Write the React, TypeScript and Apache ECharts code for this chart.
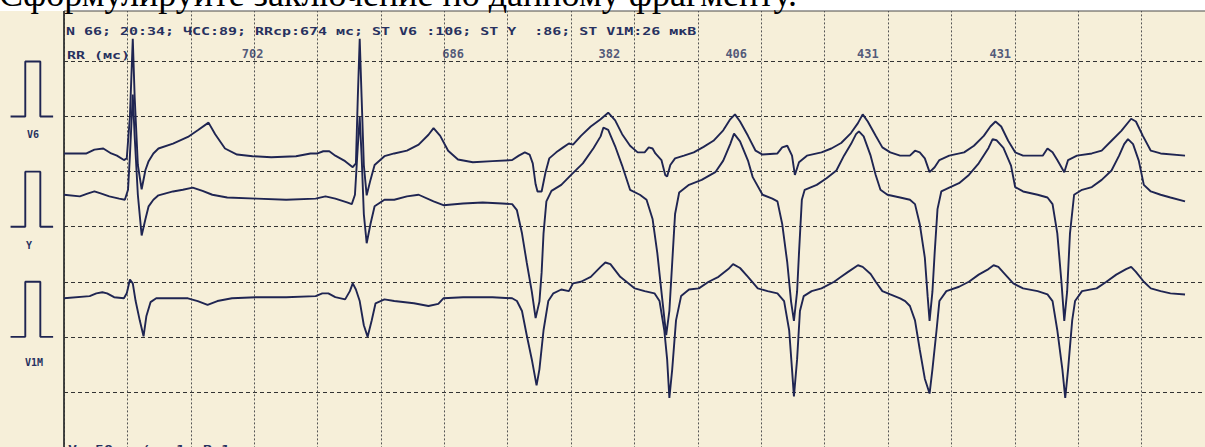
import React, { useEffect, useRef } from "react";
import * as echarts from "echarts";

// ---- Data: time in ms (50 mm/s), amplitude in mV relative to each lead's baseline ----
const V6_DATA: number[][] = [
  [0, 0], [71, 0], [96, 0.07], [124, 0.09], [149, 0], [167, -0.04], [189, -0.12], [198, -0.09],
  [208, 0.67], [217, 2.08], [223, 1.02], [233, -0.21], [245, -0.65], [257, -0.3], [267, -0.14],
  [282, 0], [298, 0.09], [344, 0.18], [391, 0.3], [422, 0.42], [456, 0.56], [477, 0.35], [508, 0.09],
  [546, -0.02], [595, -0.05], [654, -0.07], [732, -0.05], [778, 0], [800, 0], [818, 0.04], [837, 0.04],
  [856, -0.04], [887, -0.14], [911, -0.25], [921, -0.18], [927, 1.02], [933, 2.08], [939, 1.02],
  [946, -0.21], [955, -0.76], [967, -0.48], [980, -0.21], [1011, -0.05], [1042, 0], [1082, 0.05],
  [1119, 0.16], [1150, 0.34], [1166, 0.46], [1187, 0.32], [1212, 0.05], [1243, -0.11], [1290, -0.16],
  [1352, -0.14], [1414, -0.12], [1435, -0.04], [1454, 0.02], [1469, -0.02], [1479, -0.18], [1488, -0.56],
  [1494, -0.69], [1507, -0.69], [1519, -0.35], [1531, -0.09], [1553, 0.02], [1575, 0.11], [1593, 0.18],
  [1606, 0.16], [1631, 0.32], [1662, 0.49], [1693, 0.62], [1717, 0.74], [1739, 0.6], [1761, 0.35],
  [1786, 0.14], [1810, 0.02], [1832, 0.02], [1845, 0.11], [1857, 0.09], [1866, 0], [1885, -0.12],
  [1897, -0.39], [1903, -0.42], [1913, -0.21], [1928, -0.09], [1956, -0.04], [1987, 0.02], [2018, 0.12],
  [2049, 0.23], [2080, 0.42], [2102, 0.62], [2117, 0.71], [2133, 0.58], [2158, 0.32], [2182, 0.05],
  [2204, -0.02], [2251, 0], [2266, 0.11], [2282, 0.14], [2297, -0.04], [2306, -0.39], [2319, -0.16],
  [2344, -0.04], [2390, 0.02], [2421, 0.09], [2452, 0.19], [2483, 0.37], [2505, 0.55], [2520, 0.71],
  [2536, 0.58], [2561, 0.32], [2582, 0.11], [2607, 0.02], [2638, -0.04], [2669, -0.04], [2685, 0.05],
  [2700, 0.02], [2716, -0.09], [2731, -0.34], [2747, -0.25], [2762, -0.12], [2793, -0.04], [2840, 0.02],
  [2871, 0.14], [2902, 0.32], [2923, 0.49], [2939, 0.58], [2957, 0.49], [2979, 0.23], [3001, 0.02],
  [3026, -0.04], [3088, -0.04], [3103, 0.09], [3119, 0.02], [3134, -0.12], [3156, -0.34], [3168, -0.12],
  [3196, -0.04], [3243, 0], [3274, 0.05], [3305, 0.23], [3336, 0.41], [3367, 0.63], [3382, 0.58],
  [3404, 0.32], [3429, 0.05], [3460, 0], [3537, -0.04],
];

const Y_DATA: number[][] = [
  [0, 0.05], [50, 0.02], [74, 0.07], [96, 0.11], [118, 0.07], [143, 0.02], [174, -0.02], [192, -0.04],
  [202, 0.14], [208, 0.76], [217, 1.87], [223, 1.11], [233, 0.05], [245, -0.69], [257, -0.39],
  [267, -0.16], [282, -0.04], [298, 0.04], [344, 0.11], [375, 0.14], [406, 0.18], [437, 0.12],
  [468, 0.05], [515, 0], [608, -0.02], [701, -0.04], [794, -0.02], [825, 0.02], [856, -0.02],
  [893, -0.09], [908, -0.12], [918, 0.05], [927, 0.93], [933, 1.46], [939, 0.76], [946, -0.3],
  [955, -0.83], [967, -0.48], [980, -0.16], [1011, -0.04], [1042, -0.04], [1082, 0.02], [1119, 0.05],
  [1166, -0.07], [1197, -0.14], [1259, -0.11], [1321, -0.09], [1383, -0.11], [1414, -0.12],
  [1429, -0.23], [1445, -0.65], [1460, -1.18], [1476, -1.71], [1488, -2.19], [1500, -1.89],
  [1507, -1.36], [1513, -0.65], [1522, -0.07], [1538, 0.12], [1569, 0.23], [1600, 0.41], [1637, 0.62],
  [1671, 0.9], [1693, 1.11], [1702, 1.27], [1717, 1.23], [1739, 0.93], [1761, 0.58], [1786, 0.14],
  [1817, 0.05], [1838, -0.04], [1857, -0.39], [1872, -1.01], [1885, -1.71], [1900, -2.5], [1910, -2.06],
  [1919, -1.18], [1928, -0.3], [1941, 0.09], [1972, 0.23], [2012, 0.32], [2055, 0.46], [2080, 0.67],
  [2102, 0.97], [2114, 1.16], [2133, 1.02], [2158, 0.67], [2173, 0.37], [2204, 0.05], [2235, -0.02],
  [2251, -0.07], [2266, -0.48], [2282, -1.18], [2294, -1.89], [2303, -2.24], [2313, -1.71],
  [2319, -1.01], [2328, -0.04], [2337, 0.14], [2375, 0.23], [2406, 0.35], [2437, 0.49], [2461, 0.76],
  [2483, 0.97], [2499, 1.15], [2508, 1.2], [2523, 1.11], [2545, 0.76], [2561, 0.41], [2576, 0.14],
  [2598, 0.05], [2638, 0], [2669, -0.04], [2685, -0.12], [2700, -0.48], [2716, -1.09], [2725, -1.8],
  [2731, -2.24], [2740, -1.71], [2747, -1.01], [2756, -0.21], [2768, 0.11], [2793, 0.18], [2824, 0.26],
  [2855, 0.41], [2886, 0.62], [2917, 0.9], [2930, 1.06], [2942, 1.04], [2964, 0.9], [2988, 0.58],
  [3001, 0.19], [3026, 0.11], [3072, 0.05], [3103, 0], [3119, -0.12], [3134, -0.65], [3147, -1.53],
  [3156, -2.24], [3165, -1.71], [3174, -0.65], [3187, 0.05], [3212, 0.14], [3243, 0.19], [3274, 0.32],
  [3305, 0.49], [3329, 0.76], [3345, 0.97], [3357, 1.06], [3373, 0.97], [3391, 0.67], [3407, 0.23],
  [3429, 0.11], [3460, 0.05], [3491, 0], [3537, -0.07],
];

const V1M_DATA: number[][] = [
  [0, -0.02], [81, 0.02], [102, 0.07], [121, 0.09], [136, 0.07], [158, 0], [189, -0.02], [198, 0.07],
  [208, 0.32], [217, 0.25], [226, -0.07], [239, -0.42], [251, -0.71], [260, -0.34], [273, -0.09],
  [291, -0.02], [391, -0.02], [422, -0.07], [453, -0.14], [484, -0.07], [530, -0.02], [608, 0], [701, 0],
  [794, 0.02], [815, 0.07], [834, 0.07], [856, 0], [887, -0.04], [902, 0.11], [911, 0.25], [921, 0.14],
  [933, -0.07], [946, -0.51], [958, -0.72], [971, -0.42], [983, -0.11], [1011, -0.04], [1042, -0.07],
  [1104, -0.11], [1150, -0.16], [1181, -0.12], [1197, -0.02], [1259, 0], [1352, 0], [1414, -0.02],
  [1429, -0.07], [1445, -0.25], [1460, -0.69], [1476, -1.13], [1491, -1.6], [1500, -1.31], [1513, -0.6],
  [1528, -0.07], [1544, 0.07], [1569, 0.14], [1593, 0.11], [1606, 0.25], [1631, 0.28], [1662, 0.37],
  [1693, 0.55], [1708, 0.63], [1724, 0.6], [1755, 0.37], [1801, 0.16], [1832, 0.11], [1863, 0.07],
  [1879, -0.07], [1894, -0.6], [1903, -1.13], [1910, -1.83], [1919, -1.31], [1931, -0.42], [1947, 0.02],
  [1972, 0.14], [2003, 0.16], [2034, 0.28], [2065, 0.37], [2096, 0.51], [2111, 0.6], [2133, 0.53],
  [2158, 0.37], [2189, 0.16], [2220, 0.11], [2251, 0.07], [2272, -0.07], [2288, -0.6], [2297, -1.31],
  [2303, -1.8], [2313, -1.13], [2322, -0.25], [2334, 0.02], [2359, 0.11], [2390, 0.16], [2430, 0.28],
  [2452, 0.37], [2474, 0.46], [2505, 0.58], [2520, 0.55], [2545, 0.42], [2561, 0.28], [2582, 0.11],
  [2607, 0.05], [2638, -0.02], [2654, -0.07], [2669, -0.16], [2685, -0.42], [2700, -0.95], [2716, -1.48],
  [2731, -1.75], [2740, -1.31], [2753, -0.6], [2762, -0.07], [2784, 0.11], [2824, 0.19], [2855, 0.28],
  [2886, 0.41], [2917, 0.51], [2933, 0.58], [2948, 0.55], [2970, 0.41], [2995, 0.25], [3026, 0.16],
  [3072, 0.11], [3103, 0.05], [3119, -0.07], [3134, -0.6], [3150, -1.31], [3159, -1.83], [3168, -1.31],
  [3181, -0.42], [3190, -0.07], [3212, 0.11], [3258, 0.16], [3289, 0.28], [3320, 0.41], [3351, 0.51],
  [3367, 0.55], [3382, 0.46], [3407, 0.28], [3429, 0.16], [3460, 0.11], [3491, 0.07], [3537, 0.05],
];

// Lead baselines on the chart's mV scale
const V6_BASE = 4.33;
const Y_BASE = 3.53;
const V1M_BASE = 1.72;

// Calibration pulse (1 mV) drawn in the left margin
const CAL_T = [-167, -121, -121, -74, -74, -34];
const CAL_V = [0, 0, 1, 1, 0, 0];
const CAL_BASES = [5, 3, 1];
const CAL_LABELS = ["V6", "Y", "V1M"];

// RR intervals printed on the strip
const RR_VALUES = [702, 686, 382, 406, 431, 431];
const RR_LABEL_T = [595, 1228, 1721, 2121, 2536, 2954];
const RR_LABEL_V = 6.14;

const TITLE = "Сформулируйте заключение по данному фрагменту.";
const HEADER = "N 66; 20:34; ЧСС:89; RRср:674 мс; ST V6 :106; ST Y  :86; ST V1M:26 мкВ";
const RR_HEADER = "RR (мс)";
const FOOTER = "V: 50 мм/с; 1 мВ:1 см";

const PAPER = "#f6efd9";
const INK = "#1f2552";
const TEXT_INK = "#27315f";
const MONO = '"DejaVu Sans Mono", monospace';

export default function App() {
  const ref = useRef<HTMLDivElement>(null);

  useEffect(() => {
    if (!ref.current) return;
    const chart = echarts.init(ref.current, null, { renderer: "svg" });

    const lead = (data: number[][], base: number) =>
      data.map(([t, v]) => [t, Math.round((v + base) * 1000) / 1000]);

    const traceSeries = [
      { name: "V6", data: lead(V6_DATA, V6_BASE) },
      { name: "Y", data: lead(Y_DATA, Y_BASE) },
      { name: "V1M", data: lead(V1M_DATA, V1M_BASE) },
    ].map((s) => ({
      type: "line",
      name: s.name,
      data: s.data,
      xAxisIndex: 0,
      yAxisIndex: 0,
      showSymbol: false,
      symbol: "none",
      clip: false,
      lineStyle: { color: INK, width: 1.9 },
      z: 5,
    }));

    const calSeries = CAL_BASES.map((b, i) => ({
      type: "line",
      name: "cal-" + CAL_LABELS[i],
      data: CAL_T.map((t, k) => [t, CAL_V[k] + b]),
      xAxisIndex: 1,
      yAxisIndex: 1,
      showSymbol: false,
      symbol: "none",
      clip: false,
      lineStyle: { color: INK, width: 1.9 },
      z: 5,
    }));

    const rrSeries = {
      type: "scatter",
      name: "RR",
      data: RR_VALUES.map((v, i) => [RR_LABEL_T[i], RR_LABEL_V, v]),
      xAxisIndex: 0,
      yAxisIndex: 0,
      symbolSize: 1,
      itemStyle: { color: "rgba(0,0,0,0)" },
      label: {
        show: true,
        position: "inside",
        formatter: (p: any) => String(p.value[2]),
        fontFamily: MONO,
        fontWeight: "bold",
        fontSize: 12,
        color: TEXT_INK,
      },
      z: 6,
    };

    const hiddenAxis = {
      show: false,
      axisLine: { show: false },
      axisTick: { show: false },
      axisLabel: { show: false },
      splitLine: { show: false },
    };

    chart.setOption({
      animation: false,
      backgroundColor: PAPER,
      grid: [
        { left: 64, right: -21.8, top: 6.4, bottom: -13, show: false },
        { left: 0, width: 64, top: 6.4, bottom: -13, show: false },
      ],
      xAxis: [
        {
          type: "value",
          gridIndex: 0,
          min: 0,
          max: 3600,
          interval: 200,
          axisLine: { show: false },
          axisTick: { show: false },
          axisLabel: { show: false },
          splitLine: { show: true, lineStyle: { color: "#555555", type: [2, 2], width: 1 } },
        },
        { type: "value", gridIndex: 1, min: -200, max: 0, ...hiddenAxis },
      ],
      yAxis: [
        {
          type: "value",
          gridIndex: 0,
          min: -1,
          max: 7,
          interval: 1,
          axisLine: { show: true, onZero: false, lineStyle: { color: "#333333", width: 1.8 } },
          axisTick: { show: false },
          axisLabel: { show: false },
          splitLine: { show: true, lineStyle: { color: "#333333", type: [4, 3], width: 1 } },
        },
        { type: "value", gridIndex: 1, min: -1, max: 7, ...hiddenAxis },
      ],
      series: [...traceSeries, ...calSeries, rrSeries],
      graphic: [
        { type: "rect", shape: { x: 0, y: 0, width: 1205, height: 11 }, style: { fill: "#ffffff" }, z: 100 },
        { type: "line", shape: { x1: 64, y1: 11, x2: 1205, y2: 11 }, style: { stroke: "#4a4a4a", lineWidth: 1.2 }, z: 100 },
        {
          type: "text", x: -1, y: -5.6, z: 101,
          style: { text: TITLE, font: '36px "Liberation Serif", serif', fill: "#000", verticalAlign: "middle", align: "left" },
        },
        {
          type: "text", x: 66, y: 31, scaleX: 1.36, z: 50,
          style: { text: HEADER, font: "bold 11px " + MONO, fill: TEXT_INK, verticalAlign: "middle", align: "left" },
        },
        {
          type: "text", x: 67, y: 55, scaleX: 1.36, z: 50,
          style: { text: RR_HEADER, font: "bold 11px " + MONO, fill: TEXT_INK, verticalAlign: "middle", align: "left" },
        },
        {
          type: "text", x: 33, y: 134, z: 50,
          style: { text: CAL_LABELS[0], font: "bold 10px " + MONO, fill: TEXT_INK, verticalAlign: "middle", align: "center" },
        },
        {
          type: "text", x: 29, y: 245, z: 50,
          style: { text: CAL_LABELS[1], font: "bold 10px " + MONO, fill: TEXT_INK, verticalAlign: "middle", align: "center" },
        },
        {
          type: "text", x: 34, y: 362, z: 50,
          style: { text: CAL_LABELS[2], font: "bold 10px " + MONO, fill: TEXT_INK, verticalAlign: "middle", align: "center" },
        },
        {
          type: "text", x: 68, y: 449, scaleX: 1.36, z: 50,
          style: { text: FOOTER, font: "bold 11px " + MONO, fill: TEXT_INK, verticalAlign: "middle", align: "left" },
        },
      ],
    });

    return () => chart.dispose();
  }, []);

  return (
    <div
      ref={ref}
      style={{ position: "absolute", left: 0, top: 0, width: 1205, height: 447 }}
    />
  );
}
